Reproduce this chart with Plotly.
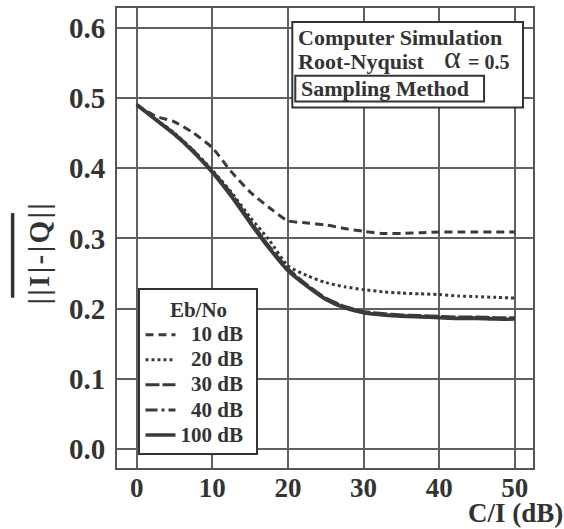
import plotly.graph_objects as go

# ---- data ----
ci_db = [0, 2.5, 5, 7.5, 10, 12.5, 15, 17.5, 20, 22.5, 25, 27.5, 30, 32.5, 35, 37.5, 40, 42.5, 45, 47.5, 50]

eb10 = [0.490, 0.474, 0.466, 0.450, 0.429, 0.395, 0.366, 0.344, 0.325, 0.322, 0.319, 0.314,
        0.310, 0.307, 0.307, 0.308, 0.309, 0.309, 0.309, 0.309, 0.309]
eb20 = [0.490, 0.470, 0.450, 0.425, 0.397, 0.366, 0.330, 0.298, 0.261, 0.247, 0.237, 0.231,
        0.227, 0.224, 0.222, 0.221, 0.220, 0.218, 0.217, 0.216, 0.215]
eb30 = [0.491, 0.470, 0.449, 0.425, 0.396, 0.364, 0.325, 0.289, 0.257, 0.234, 0.215, 0.203,
        0.196, 0.193, 0.191, 0.190, 0.189, 0.188, 0.188, 0.187, 0.187]
eb40 = [0.490, 0.469, 0.448, 0.424, 0.395, 0.362, 0.323, 0.287, 0.255, 0.233, 0.214, 0.202,
        0.195, 0.192, 0.190, 0.189, 0.188, 0.187, 0.187, 0.186, 0.186]
eb100 = [0.490, 0.469, 0.448, 0.423, 0.394, 0.360, 0.322, 0.286, 0.254, 0.232, 0.213, 0.201,
         0.194, 0.191, 0.189, 0.188, 0.187, 0.186, 0.186, 0.185, 0.185]

series_names = ["\u200710 dB", "\u200720 dB", "\u200730 dB", "\u200740 dB", "100 dB"]
series_vals = [eb10, eb20, eb30, eb40, eb100]
series_dash = ["8px,5px", "3px,3px", "14px,3px", "12px,4px,3px,4px", "solid"]
series_width = [3, 3, 3, 3, 3.5]

x_ticks = [0, 10, 20, 30, 40, 50]
y_ticks = [0.0, 0.1, 0.2, 0.3, 0.4, 0.5, 0.6]

FONT = "Liberation Serif"
INK = "#333333"

fig = go.Figure()
for name, vals, dash, w in zip(series_names, series_vals, series_dash, series_width):
    fig.add_trace(go.Scatter(
        x=ci_db, y=vals, mode="lines",
        name="<span style='font-size:21px'><b>" + name + "</b></span>\u2002",
        line=dict(color="#3a3a3a", width=w, dash=dash, shape="spline", smoothing=0.6),
    ))

# plot-area geometry (pixels) used to place decorations
L, R, T, B = 116.5, 533, 6, 468
def px(x):
    return (x - L) / (R - L)
def py(y):
    return (B - y) / (B - T)

fig.update_layout(
    width=564, height=529,
    margin=dict(l=117, r=31, t=6, b=61),
    paper_bgcolor="white", plot_bgcolor="white",
    font=dict(family=FONT, color=INK),
    showlegend=True,
    legend=dict(
        x=px(138), y=py(287), xanchor="left", yanchor="top",
        bgcolor="white", bordercolor=INK, borderwidth=2,
        font=dict(family=FONT, size=17, color=INK),
        title=dict(text="<b>Eb/No</b>", side="top center",
                   font=dict(family=FONT, size=21, color=INK)),
        tracegroupgap=0, itemwidth=30,
    ),
    xaxis=dict(
        range=[-2.6, 52.4], tickvals=x_ticks, ticktext=[f"<b>{v}</b>" for v in x_ticks],
        showgrid=True, gridcolor="#606060", gridwidth=1.5, zeroline=False,
        showline=True, mirror=True, linecolor="#555555", linewidth=2,
        ticks="", tickfont=dict(family=FONT, size=27, color=INK),
        ticklabelstandoff=-5,
    ),
    yaxis=dict(
        range=[-0.027, 0.628], tickvals=y_ticks, ticktext=[f"<b>{v:.1f}</b>" for v in y_ticks],
        showgrid=True, gridcolor="#606060", gridwidth=1.5, zeroline=False,
        showline=True, mirror=True, linecolor="#555555", linewidth=2,
        ticks="", tickfont=dict(family=FONT, size=29, color=INK),
        ticklabelstandoff=4,
    ),
)

shapes = [
    # info box
    dict(type="rect", xref="paper", yref="paper", x0=px(292), x1=px(523), y0=py(106), y1=py(20),
         line=dict(color=INK, width=2), fillcolor="white", layer="above"),
    dict(type="rect", xref="paper", yref="paper", x0=px(295), x1=px(484), y0=py(100), y1=py(74),
         line=dict(color=INK, width=2), fillcolor="rgba(0,0,0,0)", layer="above"),
    # overline of the y-axis title
    dict(type="line", xref="paper", yref="paper", x0=px(12), x1=px(12), y0=py(297), y1=py(212),
         line=dict(color=INK, width=3.5)),
]
fig.update_layout(shapes=shapes)

hs = "\u200a"
ytitle = hs.join(list("||I|-|Q||"))
annotations = [
    dict(text="<b>Computer Simulation</b>", x=px(296), y=py(36), xanchor="left", yanchor="middle",
         font=dict(family=FONT, size=22, color=INK)),
    dict(text="<b>Root-Nyquist</b>", x=px(296), y=py(60), xanchor="left", yanchor="middle",
         font=dict(family=FONT, size=22, color=INK)),
    dict(text="α", x=px(443), y=py(55), xanchor="left", yanchor="middle",
         font=dict(family=FONT, size=32, color=INK), borderpad=0),
    dict(text="<b>= 0.5</b>", x=px(467), y=py(60), xanchor="left", yanchor="middle",
         font=dict(family=FONT, size=20, color=INK), borderpad=0),
    dict(text="<b>Sampling Method</b>", x=px(299), y=py(87), xanchor="left", yanchor="middle",
         font=dict(family=FONT, size=22, color=INK)),
    dict(text="<b>C/I (dB)</b>", x=px(565), y=py(513), xanchor="right", yanchor="middle",
         font=dict(family=FONT, size=27, color=INK)),
    dict(text="<b>" + ytitle + "</b>", x=px(38), y=py(253), xanchor="center", yanchor="middle",
         textangle=-90, font=dict(family=FONT, size=29, color=INK)),
]
for a in annotations:
    a.update(xref="paper", yref="paper", showarrow=False)
fig.update_layout(annotations=annotations)

fig.write_html("out.html", config={"displayModeBar": False},
               post_script="document.body.style.margin='0';")
